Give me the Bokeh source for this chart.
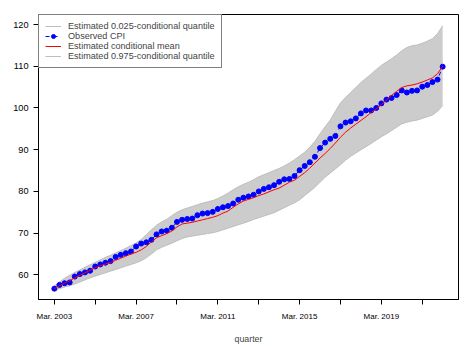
import numpy as np
from bokeh.plotting import figure
from bokeh.models import Range1d, FixedTicker, Legend, LegendItem
from bokeh.embed import file_html
from bokeh.resources import INLINE

# ---- data (quarterly, Mar. 2003 onwards) ----
observed_cpi = [56.7, 57.6, 58.0, 58.2, 59.6, 60.2, 60.6, 61.0, 62.0, 62.5,
                62.9, 63.3, 64.3, 64.8, 65.2, 65.6, 66.8, 67.5, 67.8, 68.4,
                69.7, 70.4, 70.6, 71.3, 72.7, 73.2, 73.4, 73.5, 74.3, 74.7,
                74.8, 75.1, 75.8, 76.2, 76.5, 77.1, 78.0, 78.5, 78.8, 79.2,
                80.0, 80.6, 81.0, 81.5, 82.3, 82.9, 83.0, 83.7, 85.1, 86.1,
                87.0, 88.3, 90.4, 91.7, 92.6, 93.3, 95.6, 96.5, 96.8, 97.5,
                98.7, 99.4, 99.4, 100.0, 101.1, 102.0, 102.4, 103.1, 104.2, 103.7,
                104.1, 104.2, 105.1, 105.5, 106.2, 106.8, 109.9]

cond_mean = [56.7, 57.4, 58.0, 58.6, 59.3, 59.9, 60.5, 61.1, 61.7, 62.2,
             62.6, 63.0, 63.5, 64.0, 64.5, 65.0, 65.4, 66.0, 66.8, 67.9,
             68.9, 69.4, 69.9, 70.5, 71.5, 72.2, 72.4, 72.6, 72.9, 73.2,
             73.5, 73.8, 74.2, 74.8, 75.3, 76.2, 77.0, 77.7, 78.1, 78.5,
             79.0, 79.4, 79.9, 80.4, 80.8, 81.5, 82.2, 82.7, 83.6, 84.5,
             85.6, 86.8, 88.0, 89.1, 90.3, 91.6, 93.0, 94.2, 95.2, 96.1,
             97.0, 97.9, 98.9, 99.8, 100.8, 101.9, 103.0, 104.0, 104.9, 105.3,
             105.5, 105.8, 106.2, 106.7, 107.2, 108.2, 110.0]

lower_q = [56.3, 56.7, 57.1, 57.4, 57.8, 58.3, 58.8, 59.3, 59.7, 60.1,
           60.5, 60.9, 61.3, 61.7, 62.1, 62.5, 62.9, 63.4, 64.1, 65.0,
           66.0, 66.6, 67.1, 67.6, 68.2, 68.7, 69.1, 69.3, 69.5, 69.7,
           69.9, 70.1, 70.4, 70.8, 71.2, 71.6, 72.0, 72.4, 72.8, 73.3,
           73.7, 74.1, 74.5, 74.9, 75.5, 76.1, 76.7, 77.3, 78.0, 79.0,
           80.0, 81.0, 82.2, 83.4, 84.4, 85.4, 86.4, 87.5, 88.4, 89.2,
           90.0, 90.7, 91.5, 92.3, 93.1, 93.8, 94.6, 95.4, 96.2, 96.6,
           96.9, 97.1, 97.5, 97.9, 98.3, 99.2, 100.6]

upper_q = [57.3, 58.3, 59.2, 59.9, 60.6, 61.2, 61.8, 62.4, 63.0, 63.6,
           64.2, 64.7, 65.3, 65.8, 66.4, 67.0, 67.7, 68.5, 69.6, 70.8,
           71.9, 72.7, 73.3, 74.2, 75.0, 75.6, 76.0, 76.4, 76.8, 77.2,
           77.5, 77.8, 78.3, 78.9, 79.6, 80.4, 81.1, 81.7, 82.2, 82.8,
           83.5, 84.0, 84.5, 85.0, 85.5, 86.1, 86.8, 87.6, 88.5, 89.4,
           90.6, 92.0, 93.8, 95.5, 97.1, 99.2, 101.2, 102.5, 103.7, 104.9,
           106.1, 107.1, 108.1, 109.2, 110.2, 111.0, 111.8, 112.7, 113.7, 114.5,
           114.9, 115.1, 115.5, 116.0, 116.6, 117.8, 119.7]

x_tick_labels = ["Mar. 2003", "", "Mar. 2007", "", "Mar. 2011", "",
                 "Mar. 2015", "", "Mar. 2019", ""]
y_ticks = [60, 70, 80, 90, 100, 110, 120]

quarter = np.arange(len(observed_cpi))
x_ticks = list(range(0, len(observed_cpi), 8))

FONT = "Liberation Sans"

p = figure(width=469, height=346, output_backend="svg", toolbar_location=None,
           x_range=Range1d(-3.1, 79.1), y_range=Range1d(54.1, 122.4),
           min_border_left=38, min_border_right=11, min_border_top=14,
           min_border_bottom=46)
p.toolbar.logo = None
p.grid.visible = False
p.outline_line_color = "black"
p.outline_line_width = 1
p.background_fill_color = "white"
p.border_fill_color = "white"

band = p.varea(x=quarter, y1=lower_q, y2=upper_q, fill_color="#CCCCCC")
lo = p.line(quarter, lower_q, line_color="#BEBEBE", line_width=1)
hi = p.line(quarter, upper_q, line_color="#BEBEBE", line_width=1)
obs_line = p.line(quarter, observed_cpi, line_color="#0000FF", line_width=1,
                  line_dash="4 4")
obs_pts = p.scatter(quarter, observed_cpi, size=5, fill_color="#0000FF",
                    line_color="#0000FF", marker="circle")
mean_line = p.line(quarter, cond_mean, line_color="#FF0000", line_width=1)

# axes
xa = p.xaxis[0]
xa.ticker = FixedTicker(ticks=x_ticks, minor_ticks=[])
xa.major_label_overrides = {t: lab for t, lab in zip(x_ticks, x_tick_labels)}
xa.axis_label = "quarter"
xa.axis_label_text_font = FONT
xa.axis_label_text_font_size = "8.8px"
xa.axis_label_text_font_style = "normal"
xa.axis_label_standoff = 10
xa.major_label_text_font = FONT
xa.major_label_text_font_size = "8px"
xa.major_label_standoff = 7
xa.major_tick_in = 0
xa.major_tick_out = 5
xa.minor_tick_out = 0
xa.minor_tick_in = 0
xa.axis_line_color = "black"
xa.major_tick_line_color = "black"
xa.major_label_text_color = "black"

ya = p.yaxis[0]
ya.ticker = FixedTicker(ticks=y_ticks, minor_ticks=[])
ya.major_label_text_font = FONT
ya.major_label_text_font_size = "9.2px"
ya.major_label_standoff = 5
ya.major_tick_in = 0
ya.major_tick_out = 5
ya.minor_tick_out = 0
ya.minor_tick_in = 0
ya.axis_line_color = "black"
ya.major_tick_line_color = "black"
ya.major_label_text_color = "black"

legend = Legend(items=[
    LegendItem(label="Estimated 0.025-conditional quantile", renderers=[lo]),
    LegendItem(label="Observed CPI", renderers=[obs_line, obs_pts]),
    LegendItem(label="Estimated conditional mean", renderers=[mean_line]),
    LegendItem(label="Estimated 0.975-conditional quantile", renderers=[hi]),
], location="top_left", margin=0, padding=6, spacing=0,
   label_height=10, glyph_height=10, glyph_width=16, label_standoff=7,
   label_text_font=FONT, label_text_font_size="9.1px",
   border_line_color="black", border_line_width=1,
   background_fill_color="white", background_fill_alpha=1)
p.add_layout(legend, "center")

open("out.html", "w").write(file_html(p, INLINE))
